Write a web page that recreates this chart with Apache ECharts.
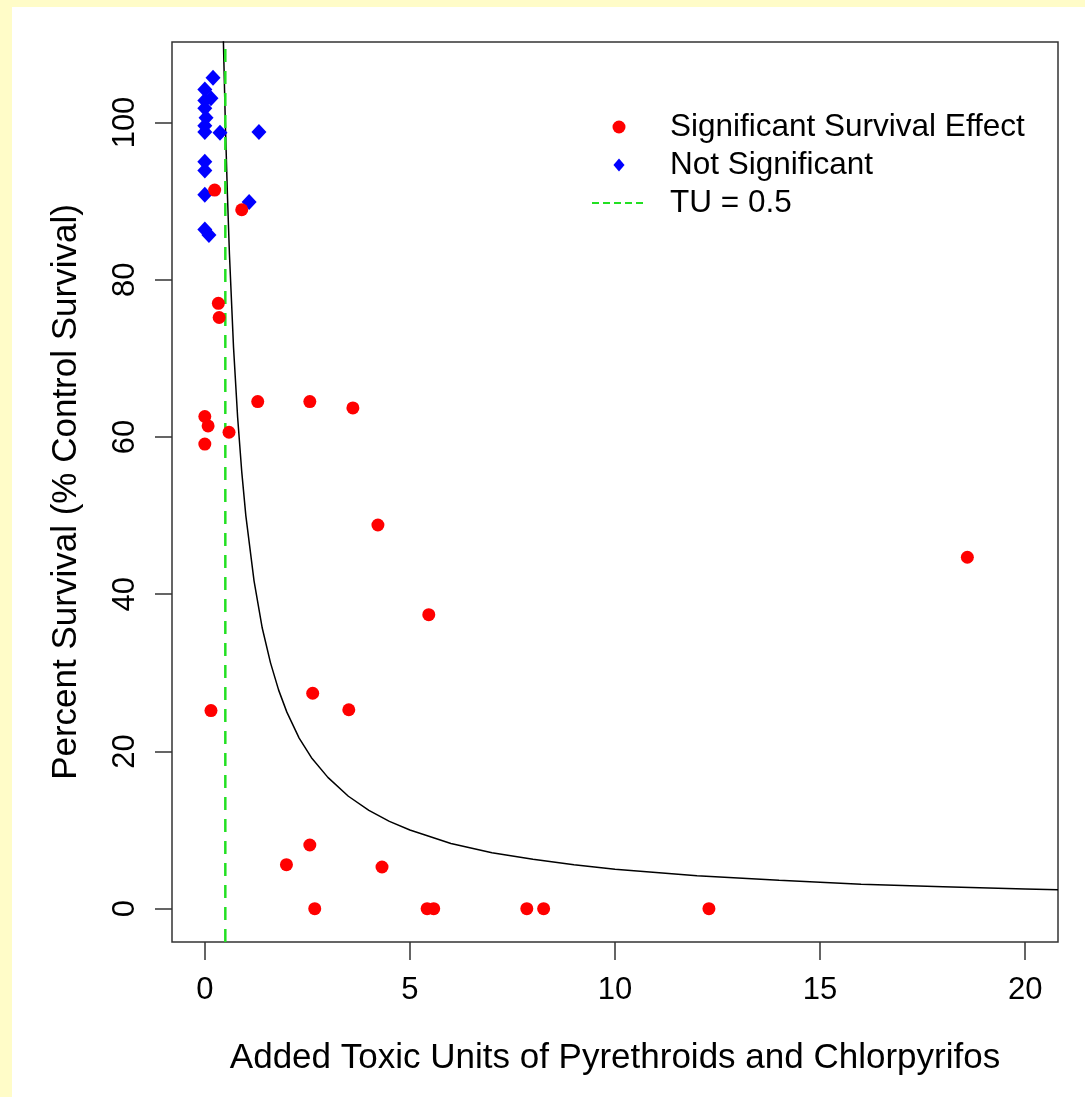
<!DOCTYPE html>
<html><head><meta charset="utf-8">
<script src="https://cdn.jsdelivr.net/npm/echarts@6/dist/echarts.min.js"></script>
<style>
html,body{margin:0;padding:0;background:#fff;}
#wrap{position:relative;width:1085px;height:1097px;background:#fff;overflow:hidden;}
#topband{position:absolute;left:0;top:0;width:1085px;height:7px;background:#FFFCC8;}
#leftband{position:absolute;left:0;top:0;width:12px;height:1097px;background:#FFFCC8;}
#chart{position:absolute;left:0;top:0;width:1085px;height:1097px;}
</style></head>
<body><div id="wrap"><div id="topband"></div><div id="leftband"></div><div id="chart"></div></div>
<script>
// Axis ticks / ranges
const xTicks = [0, 5, 10, 15, 20];
const yTicks = [0, 20, 40, 60, 80, 100];
const xRange = [-0.8, 20.8];
const yRange = [-4.24, 110.24];

// Significant Survival Effect (red)
const sigX = [0.24, 0.90, 0.33, 0.35, 0.00, 0.08, 0.00, 0.59, 1.29, 2.56, 3.61, 4.22, 18.59, 5.46, 0.15, 2.63, 3.51, 2.56, 1.99, 4.32, 2.68, 5.42, 5.58, 7.85, 8.26, 12.29];
const sigY = [91.4, 88.9, 77.0, 75.2, 62.6, 61.4, 59.1, 60.6, 64.5, 64.5, 63.7, 48.8, 44.7, 37.4, 25.2, 27.4, 25.3, 8.1, 5.6, 5.3, 0, 0, 0, 0, 0, 0];

// Not Significant (blue)
const nsX = [0.20, 0.00, 0.15, 0.00, 0.00, 0.03, 0.00, 0.00, 0.37, 1.32, 0.00, 0.00, 0.00, 1.08, 0.00, 0.10];
const nsY = [105.7, 104.2, 103.1, 102.8, 101.8, 100.6, 99.6, 98.8, 98.7, 98.8, 95.0, 93.9, 90.8, 89.9, 86.4, 85.7];

// Fitted curve
const curveX = [0.45, 0.5, 0.55, 0.6, 0.7, 0.8, 0.9, 1.0, 1.2, 1.4, 1.6, 1.8, 2.0, 2.3, 2.6, 3.0, 3.5, 4.0, 4.5, 5.0, 6.0, 7.0, 8.0, 9.0, 10, 12, 14, 16, 18, 20, 20.8];
const curveY = [111, 100, 91, 83.3, 71.4, 62.5, 55.6, 50, 41.7, 35.7, 31.3, 27.8, 25, 21.7, 19.2, 16.7, 14.3, 12.5, 11.1, 10, 8.3, 7.1, 6.3, 5.6, 5, 4.2, 3.6, 3.1, 2.8, 2.5, 2.4];

// Threshold line
const tuValue = [0.5];

const seriesNames = ['Significant Survival Effect', 'Not Significant', 'TU = 0.5'];

const zip = (a, b) => a.map((v, i) => [v, b[i]]);
const FONT = 'Liberation Sans, Arial, sans-serif';
const DIAMOND = 'path://M6,0L12,7L6,14L0,7Z';

const chart = echarts.init(document.getElementById('chart'), null, {renderer: 'canvas'});
chart.setOption({
  animation: false,
  backgroundColor: 'transparent',
  grid: {left: 172, top: 42, width: 886, height: 900, show: true, borderColor: '#333', borderWidth: 1.5, backgroundColor: '#fff'},
  xAxis: {
    type: 'value', min: xRange[0], max: xRange[1],
    axisLine: {show: false, onZero: false},
    splitLine: {show: false},
    axisTick: {show: true, inside: false, length: 18, customValues: xTicks, lineStyle: {color: '#333', width: 1.5}},
    axisLabel: {customValues: xTicks, margin: 33, fontSize: 31, fontFamily: FONT, color: '#000'},
    name: 'Added Toxic Units of Pyrethroids and Chlorpyrifos',
    nameLocation: 'middle', nameGap: 99,
    nameTextStyle: {fontSize: 35, fontFamily: FONT, color: '#000'}
  },
  yAxis: {
    type: 'value', min: yRange[0], max: yRange[1],
    axisLine: {show: false, onZero: false},
    splitLine: {show: false},
    axisTick: {show: true, inside: false, length: 17, customValues: yTicks, lineStyle: {color: '#333', width: 1.5}},
    axisLabel: {customValues: yTicks, rotate: 90, margin: 31, fontSize: 31, fontFamily: FONT, color: '#000'},
    name: 'Percent Survival (% Control Survival)',
    nameLocation: 'middle', nameGap: 88,
    nameTextStyle: {fontSize: 35, fontFamily: FONT, color: '#000'}
  },
  legend: {
    data: [
      {name: seriesNames[0], icon: 'circle'},
      {name: seriesNames[1], icon: DIAMOND},
      {name: seriesNames[2], itemStyle: {opacity: 0, color: 'rgba(0,0,0,0)', borderWidth: 0}}
    ],
    orient: 'vertical', left: 586, top: 103,
    itemWidth: 54, itemHeight: 13, itemGap: 0,
    symbolKeepAspect: true,
    selectedMode: false,
    lineStyle: {type: [7, 4], width: 2},
    textStyle: {fontSize: 31.5, fontFamily: FONT, color: '#000', lineHeight: 38, padding: [0, 0, 0, 19]}
  },
  series: [
    {
      name: 'curve', type: 'line', data: zip(curveX, curveY),
      showSymbol: false, symbol: 'none', silent: true,
      lineStyle: {color: '#000', width: 1.5}, clip: true, z: 2
    },
    {
      name: seriesNames[2], type: 'line',
      data: [[tuValue[0], yRange[0]], [tuValue[0], yRange[1]]],
      showSymbol: false, symbol: 'none', silent: true,
      itemStyle: {color: '#22e022'},
      lineStyle: {color: '#22e022', width: 2.5, type: [13, 9]}, z: 3
    },
    {
      name: seriesNames[1], type: 'scatter', data: zip(nsX, nsY),
      symbol: 'diamond', symbolSize: [15, 16],
      itemStyle: {color: '#0000ff', opacity: 1}, z: 4
    },
    {
      name: seriesNames[0], type: 'scatter', data: zip(sigX, sigY),
      symbol: 'circle', symbolSize: 13,
      itemStyle: {color: '#ff0000', opacity: 1}, z: 5
    }
  ]
});
</script>
</body></html>
